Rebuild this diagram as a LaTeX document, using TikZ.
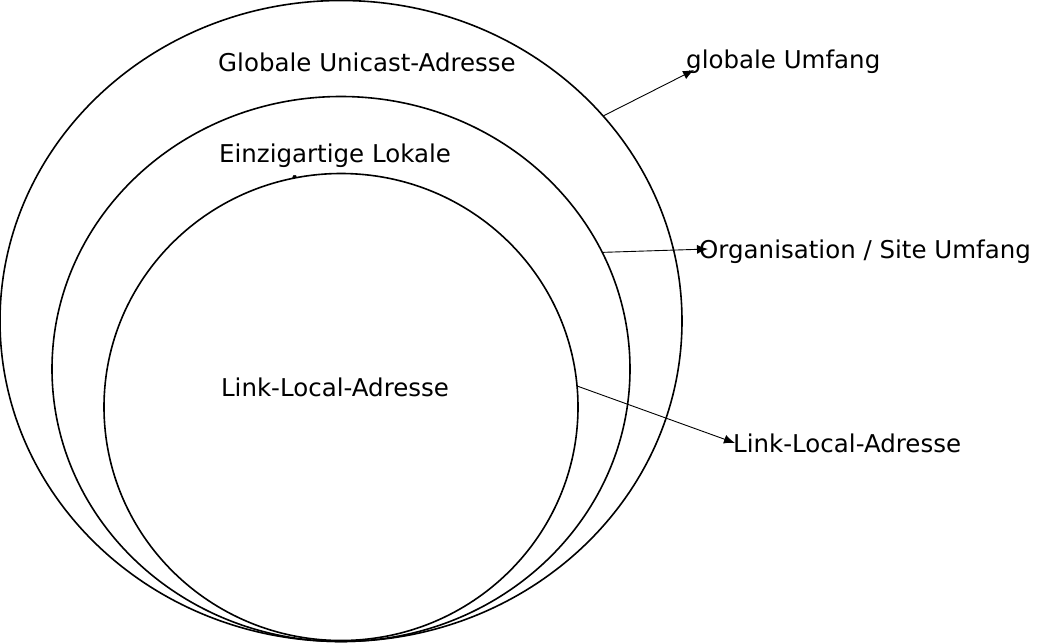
\documentclass[tikz,border=0pt]{standalone}
\usepackage{fontspec}
\setmainfont{DejaVu Sans}
\usetikzlibrary{shapes.geometric,arrows.meta}

\begin{document}
\begin{tikzpicture}[x=1pt,y=-1pt,
   ring/.style={ellipse, draw, fill=white, line width=1.6pt, inner sep=0pt},
   lbl/.style={font=\fontsize{24.5}{31}\selectfont, align=center},
   pointer/.style={-{Latex[length=11pt,width=9pt]}, line width=0.9pt}]
   \useasboundingbox (0,0) rectangle (1060,643);
   \node[ring, minimum width=682, minimum height=641] (global) at (341,321) {};
   \node[lbl] (tglobal) at (367,62) {Globale Unicast-Adresse};
   \node[ring, minimum width=578, minimum height=545] (ula) at (341,369) {};
   \node[lbl] (tula) at (335,169) {Einzigartige Lokale\\Adresse};
   \node[ring, minimum width=474, minimum height=467] (link) at (341,407) {};
   \node[lbl] (tlink) at (335,387) {Link-Local-Adresse};
   % scope labels
   \node[lbl, anchor=west, inner sep=0pt] (sglobal) at (686,62) {globale Umfang};
   \node[lbl, anchor=west, inner sep=0pt] (sula) at (699,252) {Organisation / Site Umfang};
   \node[lbl, anchor=west, inner sep=0pt] (slink) at (733,443) {Link-Local-Adresse};
   \coordinate (eglobal) at (694,70);
   \coordinate (eula) at (708,249);
   \coordinate (elink) at (735,443);
   \draw[pointer] (global.38) -- (eglobal);
   \draw[pointer] (ula.24) -- (eula);
   \draw[pointer] (link.5) -- (elink);
\end{tikzpicture}
\end{document}
